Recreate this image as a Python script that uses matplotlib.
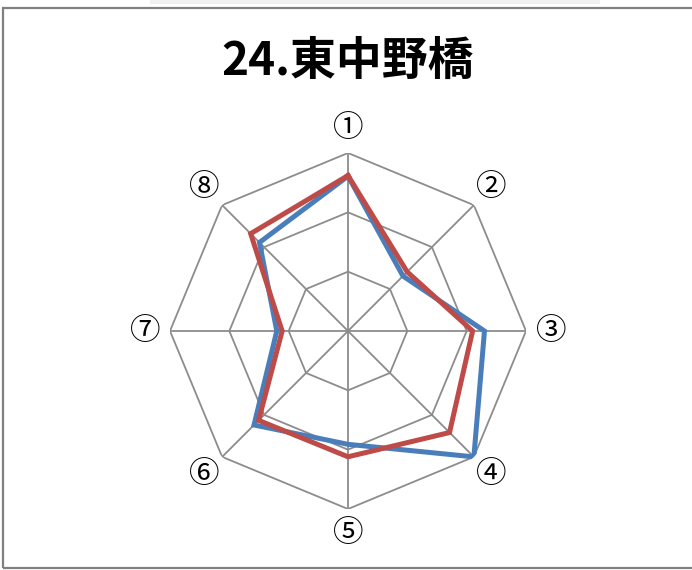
import numpy as np
import matplotlib
matplotlib.use("Agg")
import matplotlib.pyplot as plt
from matplotlib.patches import Rectangle

plt.rcParams['font.family'] = ['Noto Sans CJK JP', 'DejaVu Sans']

TITLE = '24.東中野橋'
LABELS = ['①', '②', '③', '④', '⑤', '⑥', '⑦', '⑧']
SERIES_BLUE = [2.61, 1.31, 2.30, 3.00, 1.91, 2.24, 1.20, 2.11]
SERIES_RED = [2.62, 1.41, 2.10, 2.42, 2.12, 2.13, 1.11, 2.32]
RINGS = [1, 2, 3]
R_MAX = 3

W, H = 692, 570
fig = plt.figure(figsize=(W / 100, H / 100), dpi=100)

# frame like the page box
fig.patches.append(Rectangle((3 / W, 2 / H), 1.0, (560.5) / H, transform=fig.transFigure,
                             fill=False, edgecolor='#808080', linewidth=1.6))
fig.patches.append(Rectangle((150 / W, (H - 4) / H), 450 / W, 4 / H, transform=fig.transFigure,
                             facecolor='#f0f0f0', edgecolor='none'))

cx, cy, r = 348, 331, 178
ax = fig.add_axes([(cx - r) / W, (H - cy - r) / H, 2 * r / W, 2 * r / H], projection='polar')
ax.set_theta_zero_location('N')
ax.set_theta_direction(-1)
ax.set_ylim(0, R_MAX)
ax.grid(False)
ax.set_xticks([])
ax.set_yticks([])
ax.spines['polar'].set_visible(False)
ax.patch.set_visible(False)

n = len(LABELS)
ang = np.arange(n) * 2 * np.pi / n
ang_c = np.append(ang, ang[0])

for lv in RINGS:
    ax.plot(ang_c, [lv] * (n + 1), color='#8c8c8c', lw=1.3, zorder=1)
for a in ang:
    ax.plot([a, a], [0, R_MAX], color='#8c8c8c', lw=1.3, zorder=1)

ax.plot(ang_c, SERIES_BLUE + SERIES_BLUE[:1], color='#4a7ebb', lw=3.6, zorder=3,
        solid_joinstyle='miter')
ax.plot(ang_c, SERIES_RED + SERIES_RED[:1], color='#be4b48', lw=3.6, zorder=4,
        solid_joinstyle='miter')

for a, lab in zip(ang, LABELS):
    ax.text(a, 3.42, lab, ha='center', va='center', fontsize=22, color='black',
            clip_on=False)

fig.text(cx / W, 1 - 62 / H, TITLE, ha='center', va='center', fontsize=33,
         fontweight='bold', color='black')

fig.savefig('out.png', dpi=100)
